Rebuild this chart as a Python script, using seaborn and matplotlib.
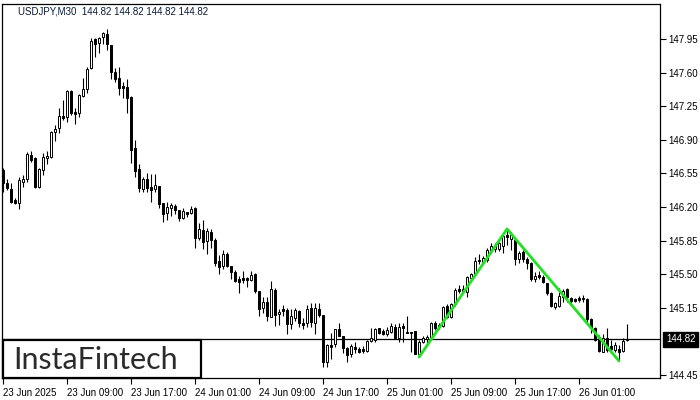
import matplotlib
matplotlib.use("Agg")
import matplotlib.pyplot as plt
import matplotlib.transforms as mtransforms
from matplotlib.patches import Rectangle
import numpy as np
import pandas as pd
import seaborn as sns

# USDJPY M30 candles, 23 Jun 2025 01:00 onwards
opens = [
    146.585, 146.450, 146.387, 146.273, 146.241, 146.460, 146.491, 146.741, 146.710, 146.408,
    146.585, 146.710, 146.721, 146.981, 147.023, 147.148, 147.137, 147.408, 147.189, 147.179,
    147.356, 147.429, 147.648, 147.950, 147.908, 147.971, 148.002, 147.887, 147.606, 147.544,
    147.460, 147.450, 147.346, 146.814, 146.596, 146.387, 146.491, 146.408, 146.387, 146.419,
    146.241, 146.137, 146.189, 146.210, 146.169, 146.085, 146.148, 146.137, 146.189, 145.877,
    145.960, 145.846, 145.939, 145.856, 145.637, 145.585, 145.710, 145.585, 145.523, 145.450,
    145.460, 145.460, 145.439, 145.502, 145.325, 145.148, 145.210, 145.054, 145.335, 145.085,
    145.137, 145.127, 144.981, 145.044, 145.117, 144.991, 144.991, 145.148, 144.991, 145.137,
    145.075, 144.585, 144.762, 144.773, 144.929, 144.856, 144.731, 144.669, 144.742, 144.721,
    144.721, 144.700, 144.804, 144.814, 144.939, 144.908, 144.877, 144.898, 144.950, 144.835,
    144.960, 144.898, 144.898, 144.908, 144.669, 144.794, 144.825, 144.846, 144.991, 144.950,
    144.960, 145.169, 145.054, 145.189, 145.346, 145.325, 145.314, 145.460, 145.502, 145.648,
    145.627, 145.648, 145.742, 145.762, 145.762, 145.794, 145.908, 145.867, 145.856, 145.658,
    145.731, 145.658, 145.617, 145.450, 145.492, 145.471, 145.408, 145.304, 145.158, 145.169,
    145.262, 145.346, 145.252, 145.242, 145.252, 145.252, 145.242, 145.033, 144.939, 144.846,
    144.689, 144.835, 144.752, 144.710, 144.721, 144.700, 144.814]
highs = [
    146.606, 146.491, 146.450, 146.294, 146.512, 146.533, 146.773, 146.783, 146.721, 146.606,
    146.762, 146.783, 146.991, 147.054, 147.231, 147.314, 147.419, 147.419, 147.231, 147.377,
    147.544, 147.658, 147.960, 147.960, 147.971, 148.023, 148.054, 147.887, 147.648, 147.658,
    147.502, 147.533, 147.356, 146.898, 146.648, 146.512, 146.554, 146.544, 146.544, 146.419,
    146.241, 146.252, 146.241, 146.231, 146.169, 146.189, 146.148, 146.210, 146.200, 146.033,
    146.064, 145.981, 145.971, 145.877, 145.700, 145.752, 145.731, 145.585, 145.544, 145.481,
    145.533, 145.471, 145.533, 145.512, 145.325, 145.262, 145.262, 145.429, 145.356, 145.137,
    145.179, 145.148, 145.137, 145.148, 145.127, 145.044, 145.179, 145.200, 145.200, 145.200,
    145.075, 144.773, 144.887, 144.929, 144.991, 144.856, 144.742, 144.773, 144.794, 144.742,
    144.752, 144.814, 144.939, 144.939, 144.939, 144.929, 144.950, 144.991, 144.981, 144.991,
    144.991, 145.064, 144.898, 144.908, 144.814, 144.856, 144.867, 145.002, 145.012, 144.991,
    145.169, 145.189, 145.200, 145.356, 145.387, 145.387, 145.481, 145.512, 145.679, 145.710,
    145.689, 145.773, 145.825, 145.825, 145.835, 145.929, 145.971, 145.939, 145.877, 145.742,
    145.752, 145.679, 145.627, 145.523, 145.533, 145.492, 145.408, 145.314, 145.210, 145.356,
    145.346, 145.356, 145.262, 145.252, 145.273, 145.283, 145.252, 145.044, 144.950, 144.867,
    144.877, 144.939, 144.814, 144.794, 144.762, 144.835, 144.981]
lows = [
    146.356, 146.377, 146.241, 146.231, 146.179, 146.408, 146.460, 146.669, 146.398, 146.398,
    146.533, 146.648, 146.710, 146.887, 146.971, 147.106, 147.085, 147.158, 147.064, 147.137,
    147.346, 147.387, 147.637, 147.762, 147.804, 147.898, 147.835, 147.533, 147.502, 147.366,
    147.335, 147.179, 146.658, 146.512, 146.356, 146.356, 146.356, 146.252, 146.356, 146.189,
    146.044, 146.064, 146.106, 146.127, 146.054, 146.075, 146.096, 146.127, 145.773, 145.856,
    145.762, 145.710, 145.773, 145.585, 145.502, 145.554, 145.575, 145.450, 145.419, 145.304,
    145.408, 145.367, 145.429, 145.304, 145.064, 145.096, 145.012, 145.054, 144.960, 144.971,
    145.064, 144.877, 144.929, 145.012, 144.950, 144.929, 144.950, 144.950, 144.877, 145.054,
    144.533, 144.533, 144.617, 144.742, 144.856, 144.679, 144.585, 144.637, 144.679, 144.679,
    144.679, 144.689, 144.794, 144.794, 144.877, 144.867, 144.856, 144.887, 144.825, 144.794,
    144.794, 144.887, 144.689, 144.669, 144.637, 144.783, 144.783, 144.825, 144.919, 144.929,
    144.950, 145.044, 145.044, 145.169, 145.304, 145.304, 145.262, 145.439, 145.492, 145.606,
    145.617, 145.627, 145.721, 145.731, 145.742, 145.721, 145.804, 145.752, 145.596, 145.617,
    145.627, 145.554, 145.429, 145.419, 145.450, 145.408, 145.283, 145.158, 145.137, 145.158,
    145.210, 145.210, 145.200, 145.210, 145.210, 145.210, 145.002, 144.887, 144.804, 144.689,
    144.689, 144.689, 144.689, 144.689, 144.596, 144.689, 144.804]
closes = [
    146.450, 146.398, 146.252, 146.241, 146.481, 146.491, 146.752, 146.689, 146.408, 146.596,
    146.721, 146.731, 146.981, 147.012, 147.148, 147.127, 147.408, 147.179, 147.169, 147.366,
    147.429, 147.637, 147.929, 147.898, 147.960, 148.012, 147.898, 147.606, 147.533, 147.439,
    147.439, 147.335, 146.794, 146.575, 146.398, 146.491, 146.398, 146.377, 146.429, 146.231,
    146.127, 146.200, 146.221, 146.169, 146.085, 146.158, 146.127, 146.179, 145.877, 145.971,
    145.835, 145.950, 145.856, 145.617, 145.575, 145.710, 145.585, 145.523, 145.429, 145.419,
    145.439, 145.439, 145.492, 145.325, 145.137, 145.210, 145.064, 145.346, 145.075, 145.106,
    145.117, 144.981, 145.064, 145.127, 144.991, 144.971, 145.137, 145.002, 145.148, 145.075,
    144.585, 144.762, 144.742, 144.929, 144.856, 144.731, 144.658, 144.752, 144.721, 144.689,
    144.700, 144.804, 144.835, 144.929, 144.887, 144.877, 144.919, 144.960, 144.835, 144.950,
    144.939, 144.887, 144.887, 144.669, 144.794, 144.835, 144.846, 144.991, 144.939, 144.971,
    145.158, 145.054, 145.189, 145.335, 145.325, 145.346, 145.471, 145.502, 145.637, 145.637,
    145.669, 145.752, 145.794, 145.794, 145.825, 145.898, 145.887, 145.908, 145.658, 145.721,
    145.658, 145.617, 145.450, 145.481, 145.471, 145.419, 145.304, 145.169, 145.200, 145.273,
    145.325, 145.262, 145.221, 145.221, 145.231, 145.242, 145.033, 144.939, 144.814, 144.700,
    144.835, 144.710, 144.721, 144.762, 144.689, 144.804, 144.820]

last_price = 144.82
# double top pattern: bottom -> peak -> bottom (bar numbers)
pattern_bars = [104, 126, 154]

xtick_bars = [0, 16, 32, 48, 64, 80, 96, 112, 128, 144]
xtick_labels = ['23 Jun 2025', '23 Jun 09:00', '23 Jun 17:00', '24 Jun 01:00', '24 Jun 09:00',
                '24 Jun 17:00', '25 Jun 01:00', '25 Jun 09:00', '25 Jun 17:00', '26 Jun 01:00']
ytick_values = [144.45, 145.15, 145.50, 145.85, 146.20, 146.55, 146.90, 147.25, 147.60, 147.95]

df = pd.DataFrame({'open': opens, 'high': highs, 'low': lows, 'close': closes})
df['bar'] = np.arange(len(df))
df['up'] = df['close'] >= df['open']

sns.set_theme(style='white')
plt.rcParams['font.family'] = ['Liberation Sans', 'DejaVu Sans']

fig = plt.figure(figsize=(7, 4), dpi=100)
ax = fig.add_axes([2 / 700, 22 / 400, 658 / 700, 374 / 400])

# wicks
ax.vlines(df['bar'], df['low'], df['high'], color='black', linewidth=0.8, zorder=2)

# bodies
body_low = df[['open', 'close']].min(axis=1)
body_h = (df['close'] - df['open']).abs().clip(lower=0.004)
ax.bar(df['bar'], body_h, bottom=body_low, width=0.55,
       color=np.where(df['up'], 'white', 'black'), edgecolor='black', linewidth=0.7, zorder=3)

# last price line
ax.axhline(last_price, color='black', linewidth=0.9, zorder=1)

# double top pattern
pat = pd.DataFrame({'bar': pattern_bars,
                    'price': [lows[pattern_bars[0]], highs[pattern_bars[1]], lows[pattern_bars[2]]]})
sns.lineplot(data=pat, x='bar', y='price', color='#22e022', linewidth=2, ax=ax, zorder=4)

ax.set_xlim(-0.3, 164.25)
ax.set_ylim(144.419, 148.314)
ax.set_xlabel('')
ax.set_ylabel('')

ax.yaxis.tick_right()
ax.set_yticks(ytick_values)
ax.set_yticklabels([f'{v:.2f}' for v in ytick_values])
ax.set_xticks(xtick_bars)
ax.set_xticklabels(xtick_labels)
for lbl in ax.get_xticklabels():
    lbl.set_horizontalalignment('left')
ax.tick_params(axis='both', which='both', direction='out', length=4, width=0.8,
               labelsize=7, colors='black', pad=2)
ax.tick_params(axis='x', bottom=True, pad=3)
ax.tick_params(axis='y', right=True, left=False)

for sp in ax.spines.values():
    sp.set_color('black')
    sp.set_linewidth(0.9)

# price label at right
trans = mtransforms.blended_transform_factory(ax.transAxes, ax.transData)
ax.text(1.009, last_price, f'{last_price:.2f}', transform=trans, ha='left', va='center',
        fontsize=7, color='white', zorder=6, clip_on=False,
        bbox=dict(boxstyle='square,pad=0.3', facecolor='black', edgecolor='black'))

# header
fig.text(18 / 700, 1 - 11 / 400, 'USDJPY,M30  144.82 144.82 144.82 144.82',
         ha='left', va='center', fontsize=7, color='#0b1b3b')

# logo
fig.patches.append(Rectangle((3 / 700, 22 / 400), 198 / 700, 38 / 400, transform=fig.transFigure,
                             facecolor='white', edgecolor='black', linewidth=1.6, zorder=10))
fig.text(96 / 700, 1 - 360 / 400, 'InstaFintech', ha='center', va='center', fontsize=22,
         color='#2b2b2b', family='Lato', zorder=11)

fig.savefig('out.png', dpi=100, facecolor='white')
